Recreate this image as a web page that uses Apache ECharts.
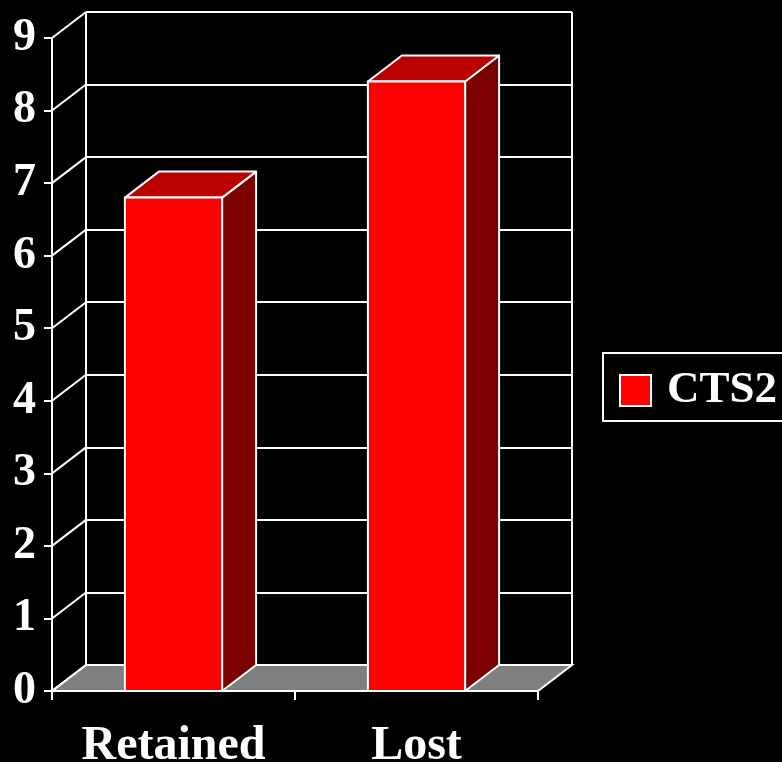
<!DOCTYPE html>
<html>
<head>
<meta charset="utf-8">
<title>CTS2</title>
<script src="https://cdn.jsdelivr.net/npm/echarts@6/dist/echarts.min.js"></script>
<style>
  html, body { margin: 0; padding: 0; background: #000; }
  #chart { width: 782px; height: 762px; }
</style>
</head>
<body>
<div id="chart"></div>
<script>
// Categories, values and tick labels
const categories = ['Retained', 'Lost'];
const cts2 = [6.8, 8.4];
const yTickValues = [0, 1, 2, 3, 4, 5, 6, 7, 8, 9];

// Perspective offset from the front plane to the back wall (pixels)
const DEPTH_X = 34;
const DEPTH_Y = -26;

const FONT = '"Liberation Serif", "Times New Roman", serif';
const WHITE = '#ffffff';
const LINE_W = 2;

const chart = echarts.init(document.getElementById('chart'), null, { renderer: 'canvas' });

const frontGrid = { left: 52, top: 38, width: 486, bottom: 71 };
const backGrid = {
  left: frontGrid.left + DEPTH_X,
  top: frontGrid.top + DEPTH_Y,
  width: frontGrid.width,
  bottom: frontGrid.bottom - DEPTH_Y
};

const option = {
  backgroundColor: '#000000',
  animation: false,
  grid: [
    Object.assign({ containLabel: false, outerBoundsMode: 'none' }, frontGrid),
    Object.assign({ containLabel: false, outerBoundsMode: 'none' }, backGrid)
  ],
  legend: {
    left: 603,
    top: 353,
    orient: 'vertical',
    borderColor: WHITE,
    borderWidth: 2,
    padding: [15, 30, 8, 16],
    itemWidth: 31,
    itemHeight: 31,
    textStyle: {
      color: WHITE,
      fontFamily: FONT,
      fontWeight: 'bold',
      fontSize: 45,
      padding: [0, 0, 0, 11]
    },
    data: [{
      name: 'CTS2',
      icon: 'rect',
      itemStyle: { color: '#ff0000', borderColor: WHITE, borderWidth: 2 }
    }]
  },
  xAxis: [
    {
      gridIndex: 0,
      type: 'category',
      data: categories,
      boundaryGap: true,
      axisLine: { show: true, lineStyle: { color: WHITE, width: LINE_W } },
      axisTick: { show: true, length: 9, lineStyle: { color: WHITE, width: LINE_W } },
      axisLabel: {
        color: WHITE,
        fontFamily: FONT,
        fontWeight: 'bold',
        fontSize: 48,
        margin: 32
      },
      splitLine: { show: false }
    },
    {
      gridIndex: 1,
      type: 'value',
      min: 0,
      max: 1,
      interval: 1,
      axisLine: { show: false },
      axisTick: { show: false },
      axisLabel: { show: false },
      splitLine: { show: true, lineStyle: { color: WHITE, width: LINE_W } }
    }
  ],
  yAxis: [
    {
      gridIndex: 0,
      type: 'value',
      min: 0,
      max: 9,
      interval: 1,
      axisLine: { show: true, lineStyle: { color: WHITE, width: LINE_W } },
      axisTick: { show: true, length: 8, lineStyle: { color: WHITE, width: LINE_W } },
      axisLabel: {
        color: WHITE,
        fontFamily: FONT,
        fontWeight: 'bold',
        fontSize: 46,
        margin: 16,
        padding: [10, 0, 0, 0],
        formatter: function (v) { return yTickValues.indexOf(v) >= 0 ? String(v) : ''; }
      },
      splitLine: { show: false }
    },
    {
      gridIndex: 1,
      type: 'value',
      min: 0,
      max: 9,
      interval: 1,
      axisLine: { show: false },
      axisTick: { show: false },
      axisLabel: { show: false },
      splitLine: { show: true, lineStyle: { color: WHITE, width: LINE_W } }
    }
  ],
  series: [
    // Grey floor between the front axis and the back wall
    {
      type: 'custom',
      name: 'floor',
      xAxisIndex: 0,
      yAxisIndex: 0,
      z: 1,
      silent: true,
      data: [0],
      renderItem: function (params, api) {
        const cs = params.coordSys;
        const y0 = api.coord([0, api.value(0)])[1];
        const x0 = cs.x, x1 = cs.x + cs.width;
        return {
          type: 'polygon',
          shape: {
            points: [
              [x0, y0], [x1, y0],
              [x1 + DEPTH_X, y0 + DEPTH_Y], [x0 + DEPTH_X, y0 + DEPTH_Y]
            ]
          },
          style: { fill: '#808080', stroke: WHITE, lineWidth: LINE_W }
        };
      }
    },
    // Slanted side-wall lines linking each front tick to its back gridline
    {
      type: 'custom',
      name: 'wall',
      xAxisIndex: 0,
      yAxisIndex: 0,
      z: 2,
      silent: true,
      data: yTickValues,
      renderItem: function (params, api) {
        const cs = params.coordSys;
        const y = api.coord([0, api.value(0)])[1];
        return {
          type: 'line',
          shape: { x1: cs.x, y1: y, x2: cs.x + DEPTH_X, y2: y + DEPTH_Y },
          style: { stroke: WHITE, lineWidth: LINE_W }
        };
      }
    },
    // 3D columns
    {
      type: 'custom',
      name: 'CTS2',
      xAxisIndex: 0,
      yAxisIndex: 0,
      z: 5,
      itemStyle: { color: '#ff0000' },
      data: cts2.map(function (v, i) { return [i, v]; }),
      encode: { x: 0, y: 1 },
      renderItem: function (params, api) {
        const idx = api.value(0);
        const top = api.coord([idx, api.value(1)]);
        const base = api.coord([idx, 0]);
        const w = api.size([1, 0])[0] * 0.4;
        const l = top[0] - w / 2, r = top[0] + w / 2;
        const t = top[1], b = base[1];
        const edge = { stroke: WHITE, lineWidth: LINE_W, lineJoin: 'round' };
        return {
          type: 'group',
          children: [
            {
              type: 'polygon',
              shape: { points: [[r, t], [r + DEPTH_X, t + DEPTH_Y], [r + DEPTH_X, b + DEPTH_Y], [r, b]] },
              style: Object.assign({ fill: '#7d0000' }, edge)
            },
            {
              type: 'polygon',
              shape: { points: [[l, t], [l + DEPTH_X, t + DEPTH_Y], [r + DEPTH_X, t + DEPTH_Y], [r, t]] },
              style: Object.assign({ fill: '#bb0000' }, edge)
            },
            {
              type: 'rect',
              shape: { x: l, y: t, width: w, height: b - t },
              style: Object.assign({ fill: '#ff0000' }, edge)
            }
          ]
        };
      }
    }
  ]
};

chart.setOption(option);
</script>
</body>
</html>
